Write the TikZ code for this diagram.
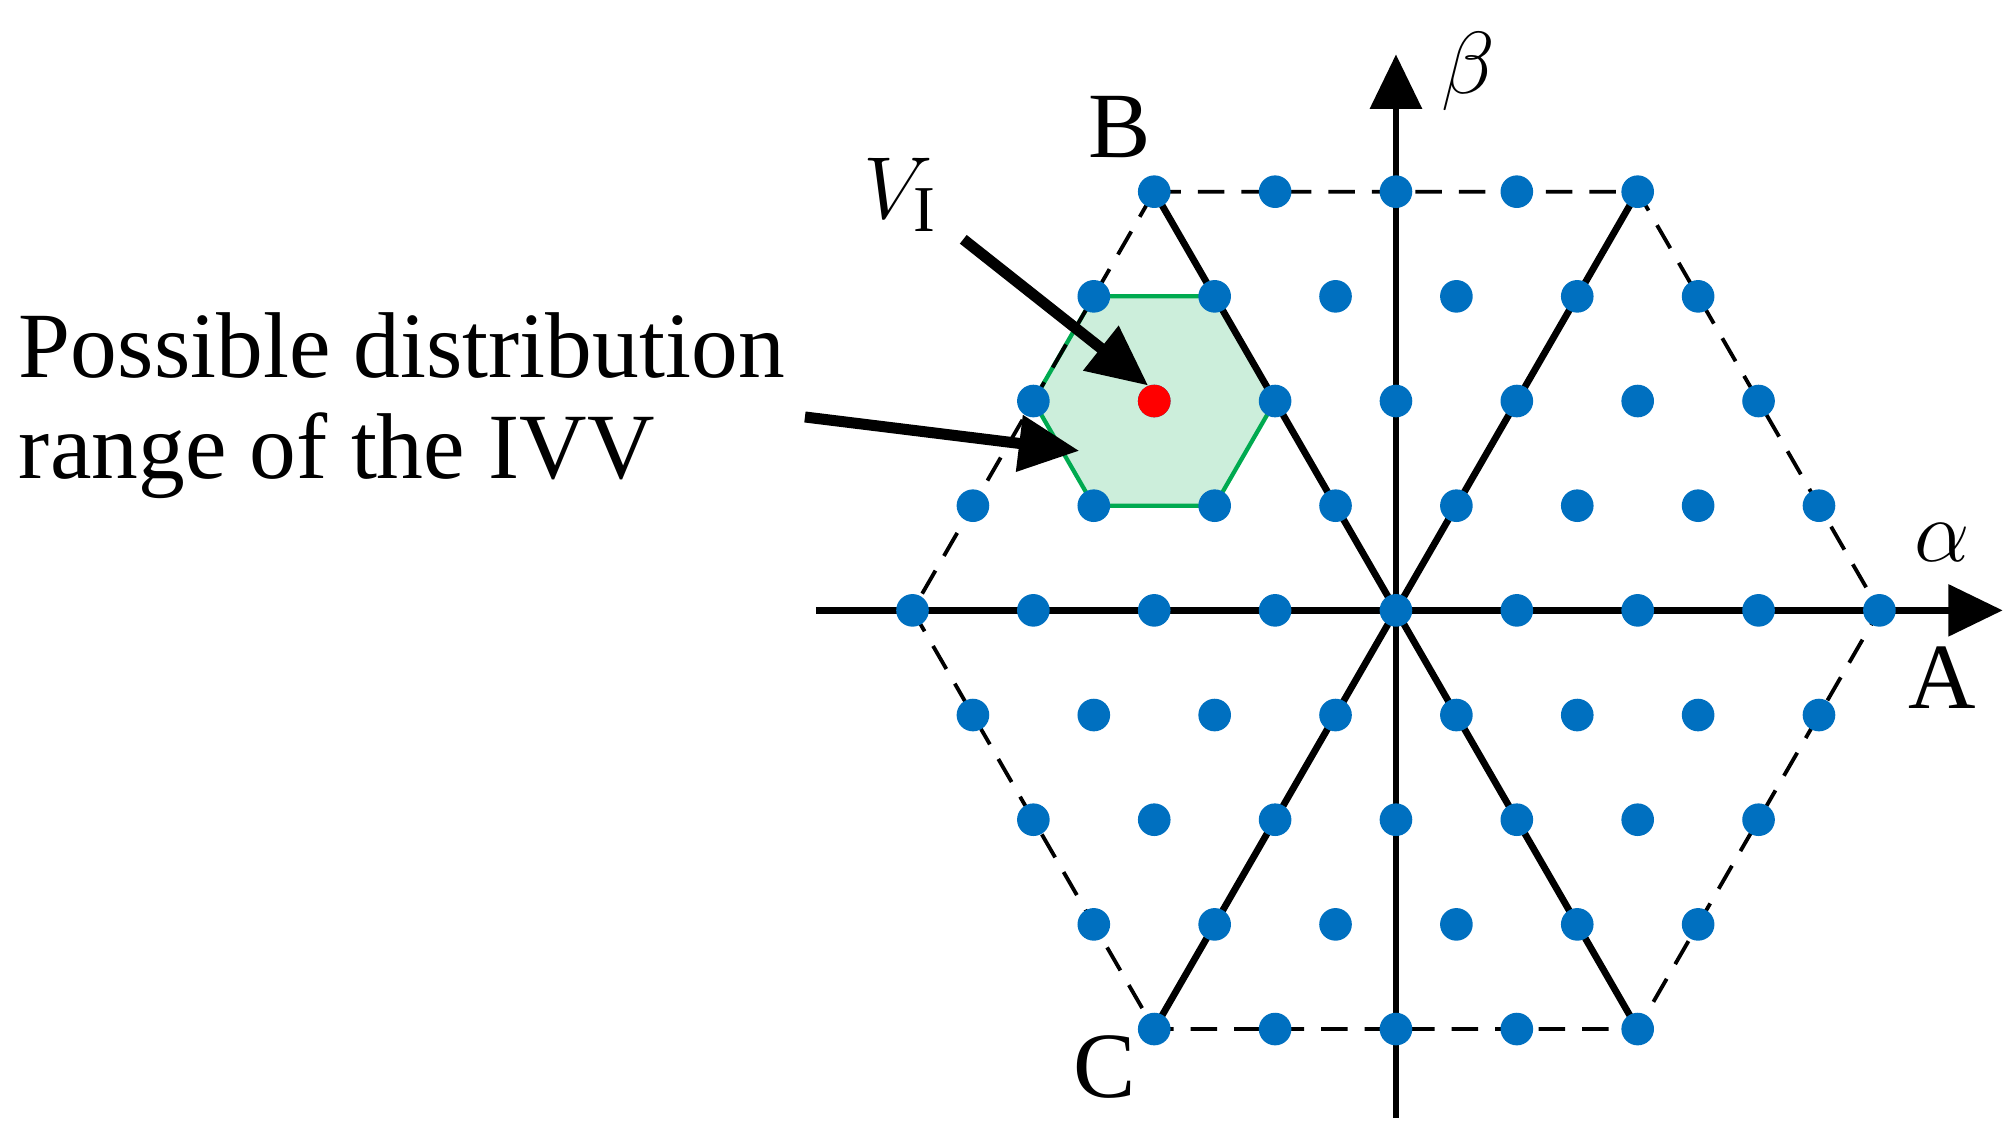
\documentclass[tikz,border=0pt]{standalone}
\usetikzlibrary{arrows.meta}
\usepackage{fontspec}
\setmainfont{Liberation Serif}
\definecolor{dotblue}{HTML}{0070C0}
\definecolor{hexfill}{HTML}{CCEEDB}
\definecolor{hexline}{HTML}{00AA50}
\begin{document}
\begin{tikzpicture}[
  dot/.style={circle,fill=dotblue,inner sep=0pt,minimum size=0.27cm},
  axis/.style={line width=1.6pt,-{Triangle[length=0.45cm,width=0.42cm]}},
  solid line/.style={line width=1.6pt},
  dash line/.style={line width=0.9pt,dash pattern=on 0.22cm off 0.14cm},
  pointer/.style={line width=2.6pt,-{Triangle[length=0.5cm,width=0.45cm]}},
  lbl/.style={font=\fontsize{22}{26}\selectfont,inner sep=0pt}
]
\useasboundingbox (-11.55,-4.44) rectangle (5.13,5.05);
\def\h{0.8660254}
% green hexagon around (-2,2h)
\fill[hexfill,draw=hexline,line width=1pt] (-1,{2*\h}) -- ++(120:1) -- ++(180:1) -- ++(240:1) -- ++(300:1) -- ++(0:1) -- cycle;
\coordinate (A) at (4,0);
\coordinate (B) at (-2,{4*\h});
\coordinate (Bp) at (2,{4*\h});
\coordinate (Am) at (-4,0);
\coordinate (C) at (-2,{-4*\h});
\coordinate (Cp) at (2,{-4*\h});
\draw[dash line] (B) -- (Bp) -- (A) -- (Cp) -- (C) -- (Am) -- cycle;
\draw[solid line] (B) -- (Cp);
\draw[solid line] (C) -- (Bp);
\coordinate (xs) at (-4.8,0); \coordinate (xe) at (5.02,0);
\coordinate (ys) at (0,-4.2); \coordinate (ye) at (0,4.6);
\draw[axis] (xs) -- (xe);
\draw[axis] (ys) -- (ye);
\foreach \i in {-4,...,4}{
  \foreach \j in {-4,...,4}{
    \pgfmathtruncatemacro{\s}{\i+\j}
    \ifnum\s<5 \ifnum\s>-5
      \node[dot] (d\i\j) at ({\i+\j/2},{\j*\h}) {};
    \fi\fi
  }
}
\node[circle,fill=red,inner sep=0pt,minimum size=0.27cm] (red) at (-2,{2*\h}) {};
\node[lbl] (lB) at (-2.29,4.0) {B};
\node[lbl] (lC) at (-2.41,-3.78) {C};
\node[lbl] (lA) at (4.52,-0.56) {A};
\node[lbl] (la) at (4.52,0.56) {$\alpha$};
\node[lbl] (lb) at (0.6,4.46) {$\beta$};
\node[lbl] (lV) at (-4.1,3.44) {$V_{\mathrm{I}}$};
\node[lbl,anchor=base west,align=left] (t1) at (-11.4,1.93) {Possible distribution};
\node[lbl,anchor=base west,align=left] (t2) at (-11.4,1.09) {range of the IVV};
\coordinate (p1s) at (-3.58,3.07); \coordinate (p1e) at (-2.05,1.86);
\coordinate (p2s) at (-4.89,1.60); \coordinate (p2e) at (-2.62,1.32);
\draw[pointer] (p1s) -- (p1e);
\draw[pointer] (p2s) -- (p2e);
\end{tikzpicture}
\end{document}
